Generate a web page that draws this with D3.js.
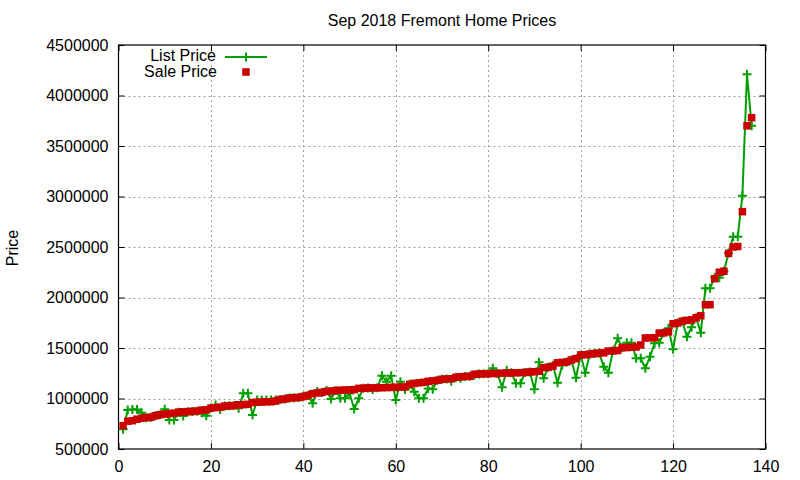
<!DOCTYPE html>
<html>
<head>
<meta charset="utf-8">
<script src="https://cdn.jsdelivr.net/npm/d3@7/dist/d3.min.js"></script>
<style>
  html, body { margin: 0; padding: 0; background: #fff; }
  svg { display: block; }
  text { font-family: "Liberation Sans", Arial, sans-serif; fill: #000; }
</style>
</head>
<body>
<svg id="chart" width="800" height="480"></svg>
<script>
const chartTitle = "Sep 2018 Fremont Home Prices";
const yAxisLabel = "Price";
const seriesNames = ["List Price", "Sale Price"];
const xTicks = [0, 20, 40, 60, 80, 100, 120, 140];
const yTicks = [500000, 1000000, 1500000, 2000000, 2500000, 3000000, 3500000, 4000000, 4500000];

const salePrice = [
  731000,775000,780000,795000,805000,810000,815000,830000,840000,845000,
  850000,855000,865000,868000,870000,872000,875000,885000,888000,905000,
  910000,915000,925000,927000,930000,938000,940000,942000,960000,963000,
  965000,967000,968000,975000,990000,995000,1005000,1008000,1010000,1020000,
  1030000,1048000,1055000,1060000,1070000,1074000,1078000,1082000,1084000,1086000,
  1088000,1100000,1102000,1104000,1105000,1106000,1107000,1108000,1110000,1111000,
  1113000,1115000,1140000,1150000,1155000,1160000,1170000,1175000,1180000,1190000,
  1193000,1196000,1210000,1215000,1218000,1220000,1240000,1243000,1245000,1246000,
  1247000,1248000,1250000,1252000,1254000,1255000,1256000,1258000,1262000,1265000,
  1270000,1305000,1310000,1320000,1354000,1358000,1362000,1381000,1395000,1431000,
  1433000,1440000,1445000,1450000,1452000,1470000,1472000,1475000,1503000,1505000,
  1507000,1510000,1530000,1599000,1600000,1602000,1648000,1650000,1660000,1740000,
  1748000,1765000,1774000,1780000,1800000,1820000,1929000,1929000,2186000,2250000,
  2260000,2437000,2500000,2505000,2850000,3700000,3780000
];

const listPrice = [
  695000,886000,890000,890000,860000,810000,815000,830000,840000,893000,
  787000,787000,865000,827000,870000,872000,875000,860000,830000,905000,
  935000,890000,925000,927000,930000,903000,1051000,1051000,837000,985000,
  985000,985000,985000,985000,990000,995000,1005000,1008000,1010000,1020000,
  1030000,952000,1070000,1060000,1080000,995000,1078000,1002000,1002000,1050000,
  896000,1002000,1102000,1104000,1090000,1106000,1226000,1166000,1226000,985000,
  1166000,1090000,1140000,1067000,1002000,1002000,1100000,1091000,1180000,1190000,
  1193000,1170000,1210000,1200000,1218000,1220000,1230000,1243000,1245000,1246000,
  1299000,1248000,1111000,1280000,1254000,1150000,1150000,1258000,1262000,1091000,
  1358000,1200000,1310000,1330000,1157000,1330000,1362000,1381000,1206000,1431000,
  1255000,1440000,1445000,1450000,1315000,1255000,1472000,1596000,1503000,1552000,
  1552000,1398000,1398000,1299000,1414000,1546000,1552000,1650000,1695000,1487000,
  1748000,1765000,1612000,1705000,1800000,1652000,2091000,2091000,2200000,2196000,
  2260000,2440000,2602000,2602000,3008000,4210000,3700000
];

const colors = { list: "#00a000", sale: "#cc0000" };

(function draw() {
const svg = d3.select("#chart");
const pL = 118.5, pR = 765.5, pT = 45, pB = 449;

const x = d3.scaleLinear().domain([0, 140]).range([pL, pR]);
const y = d3.scaleLinear().domain([500000, 4500000]).range([pB, pT]);

const grid = svg.append("g").attr("stroke", "#a0a0a0").attr("stroke-width", 1).attr("stroke-dasharray", "2,3");
xTicks.slice(1, -1).forEach(t => {
  grid.append("line").attr("x1", Math.round(x(t)) + 0.5).attr("x2", Math.round(x(t)) + 0.5).attr("y1", pT).attr("y2", pB);
});
yTicks.slice(1, -1).forEach(t => {
  grid.append("line").attr("y1", Math.round(y(t)) + 0.5).attr("y2", Math.round(y(t)) + 0.5).attr("x1", pL).attr("x2", pR);
});

const yAxis = svg.append("g").attr("transform", `translate(${pL},0)`)
  .call(d3.axisLeft(y).tickValues(yTicks).tickFormat(d3.format("d")).tickSizeInner(-6).tickSizeOuter(0).tickPadding(10));
const yAxisR = svg.append("g").attr("transform", `translate(${pR},0)`)
  .call(d3.axisRight(y).tickValues(yTicks).tickFormat("").tickSizeInner(-6).tickSizeOuter(0));
const xAxis = svg.append("g").attr("transform", `translate(0,${pB})`)
  .call(d3.axisBottom(x).tickValues(xTicks).tickFormat(d3.format("d")).tickSizeInner(-6).tickSizeOuter(0).tickPadding(12));
const xAxisT = svg.append("g").attr("transform", `translate(0,${pT})`)
  .call(d3.axisTop(x).tickValues(xTicks).tickFormat("").tickSizeInner(-6).tickSizeOuter(0));

[yAxis, yAxisR, xAxis, xAxisT].forEach(g => {
  g.select(".domain").remove();
  g.selectAll("line").attr("stroke", "#000").attr("stroke-width", 1);
  g.selectAll("text").attr("font-size", "16px").attr("font-family", "'Liberation Sans', Arial, sans-serif").attr("fill", "#000");
});

svg.append("rect").attr("x", pL).attr("y", pT).attr("width", pR - pL).attr("height", pB - pT)
  .attr("fill", "none").attr("stroke", "#000").attr("stroke-width", 1.2);

const lineGen = d3.line().x((d, i) => x(i + 1)).y(d => y(d));
svg.append("path").datum(listPrice).attr("d", lineGen)
  .attr("fill", "none").attr("stroke", colors.list).attr("stroke-width", 2).attr("stroke-linejoin", "round");

const plusPath = s => `M${-s},0H${s}M0,${-s}V${s}`;
svg.append("g").selectAll("path").data(listPrice).join("path")
  .attr("transform", (d, i) => `translate(${x(i + 1)},${y(d)})`)
  .attr("d", plusPath(4.5)).attr("stroke", colors.list).attr("stroke-width", 2).attr("fill", "none");

const sq = 7.5;
svg.append("g").selectAll("rect").data(salePrice).join("rect")
  .attr("x", (d, i) => x(i + 1) - sq / 2).attr("y", d => y(d) - sq / 2)
  .attr("width", sq).attr("height", sq).attr("fill", colors.sale);

svg.append("text").attr("x", (pL + pR) / 2).attr("y", 26).attr("text-anchor", "middle")
  .attr("font-size", "16px").text(chartTitle);

svg.append("text").attr("transform", "translate(18,248) rotate(-90)").attr("text-anchor", "middle")
  .attr("font-size", "16px").text(yAxisLabel);

const lg = svg.append("g");
lg.append("text").attr("x", 216).attr("y", 61).attr("text-anchor", "end").attr("font-size", "16px").text(seriesNames[0]);
lg.append("line").attr("x1", 225).attr("x2", 267).attr("y1", 57).attr("y2", 57).attr("stroke", colors.list).attr("stroke-width", 2);
lg.append("path").attr("transform", "translate(246,57)").attr("d", plusPath(4.5)).attr("stroke", colors.list).attr("stroke-width", 2);
lg.append("text").attr("x", 217).attr("y", 77).attr("text-anchor", "end").attr("font-size", "16px").text(seriesNames[1]);
lg.append("rect").attr("x", 246 - sq / 2).attr("y", 72 - sq / 2).attr("width", sq).attr("height", sq).attr("fill", colors.sale);
})();
</script>
</body>
</html>
